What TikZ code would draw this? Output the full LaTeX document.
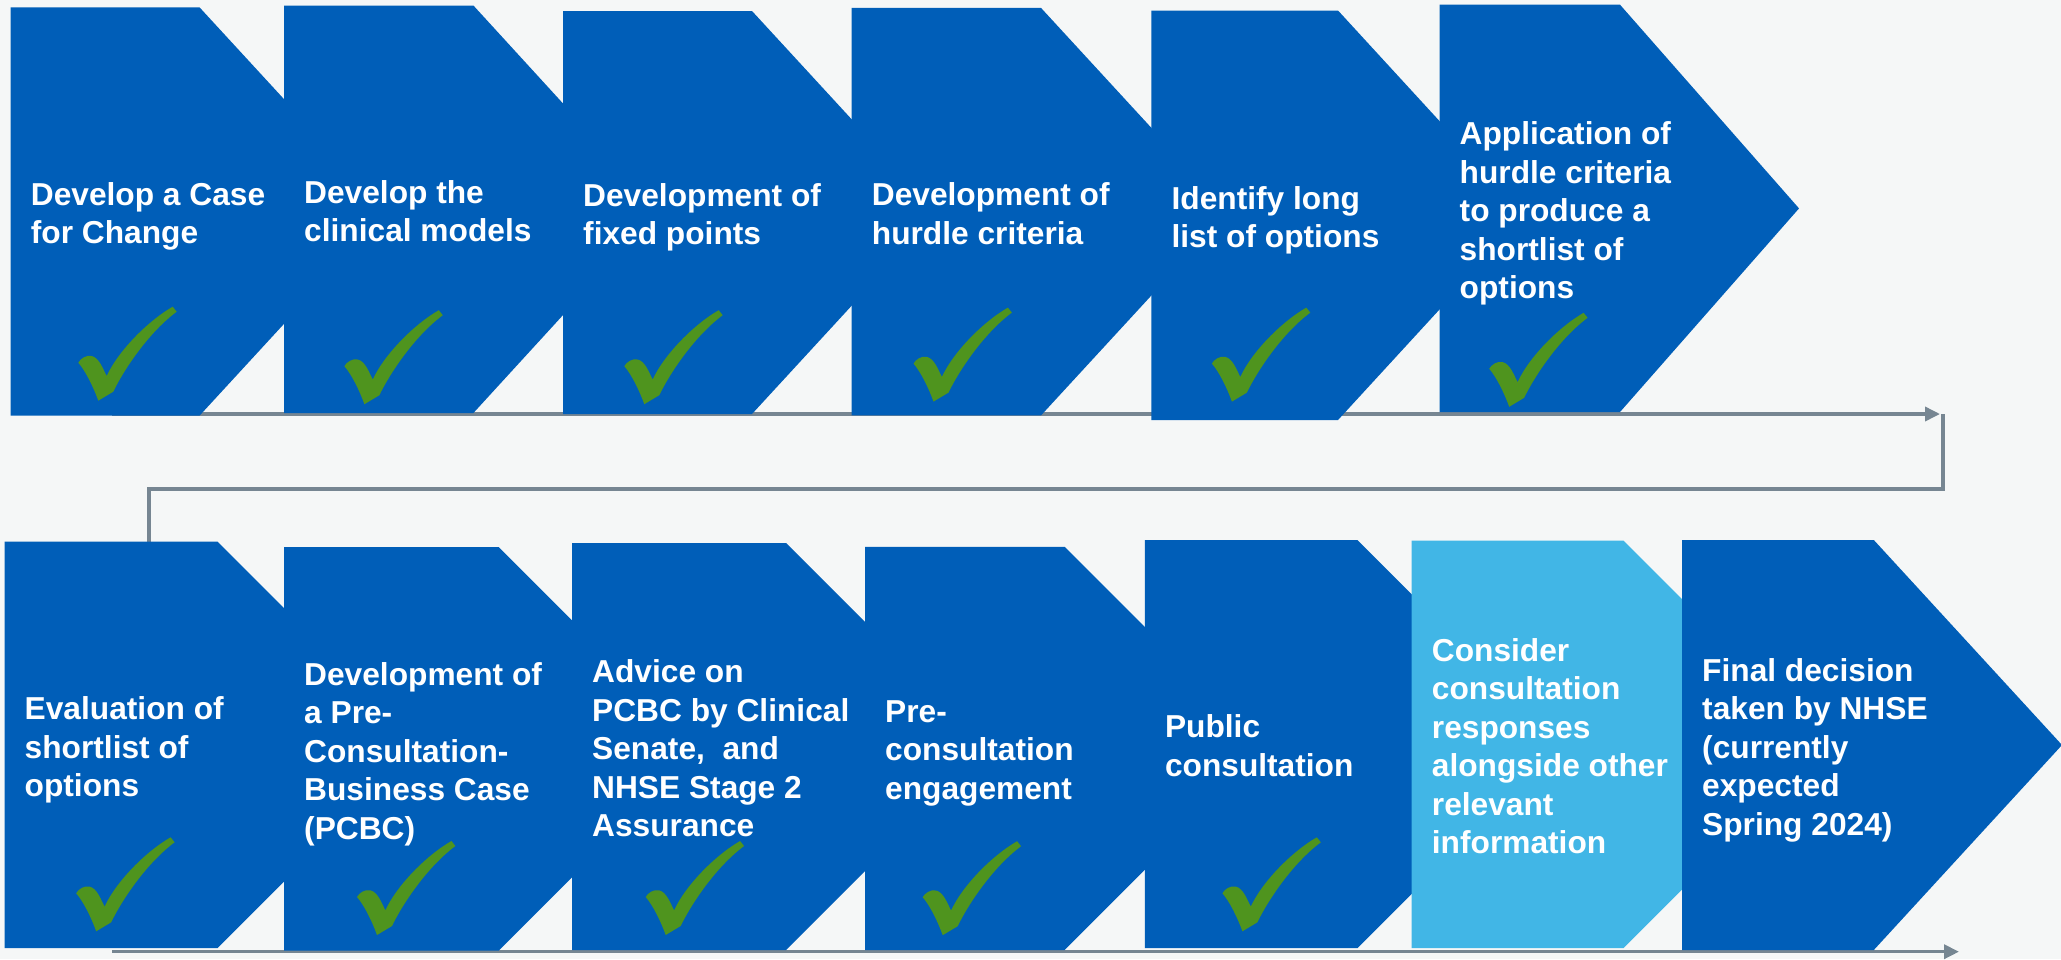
\documentclass[tikz,border=0pt]{standalone}
\usepackage{fontspec}
\setmainfont{Liberation Sans}
\usetikzlibrary{arrows.meta}

\definecolor{nhsblue}{HTML}{005EB8}
\definecolor{paleblue}{HTML}{41B6E6}
\definecolor{tickgreen}{HTML}{4F941E}
\definecolor{linegrey}{HTML}{768692}
\definecolor{pagebg}{HTML}{F5F7F7}

\newcommand\pptstrut{\rule[-0.212em]{0pt}{1.117em}}

\tikzset{
  stepshape/.style={fill=nhsblue},
  steptext/.style={anchor=west, inner sep=0pt, align=left, text=white, yshift=-5pt,
    font=\bfseries\fontsize{31.7}{38.5}\selectfont,
    execute at begin node=\pptstrut, execute at end node=\pptstrut},
  flowline/.style={draw=linegrey, line width=3.5pt},
  flowarrow/.style={flowline, -{Triangle[length=15pt,width=14pt]}},
  tickmark/.pic={
    \fill[tickgreen] (0,0) -- (15,-9) .. controls (25,-30) and (50,-68) .. (78.4,-89)
      -- (74.4,-94) .. controls (50,-80) and (20,-50) .. (8.4,-24.7)
      .. controls (5,-31) and (1,-43) .. (-6.6,-44.7)
      .. controls (-12,-46) and (-18,-42) .. (-20,-38)
      .. controls (-13,-30) and (-5,-14) .. (0,0) -- cycle;
  }
}

\begin{document}
\begin{tikzpicture}[x=1pt, y=-1pt]
        \fill[pagebg] (0,0) rectangle (2061,959);
        \useasboundingbox (0,0) rectangle (2061,959);

        % connectors behind the steps
        \coordinate (rowonestart) at (112,414);
        \coordinate (rowoneend) at (1940,414);
        \coordinate (wrap) at (1943,414);
        \coordinate (evaltop) at (149,541.7);
        \coordinate (rowtwostart) at (112,951.7);
        \coordinate (rowtwoend) at (1959,951.7);

        \draw[flowarrow] (rowonestart) -- (rowoneend);
        \draw[flowline] (wrap) -- ++(0,75) -| (evaltop);
        \draw[flowarrow] (rowtwostart) -- (rowtwoend);

        % first row
        \fill[stepshape] (10.7,7.3) -- (199.5,7.3) -- (387.4,211.5) -- (199.5,415.7) -- (10.7,415.7) -- cycle;
        \fill[stepshape] (284,5.5) -- (473.4,5.5) -- (659.8,209.3) -- (473.4,413) -- (284,413) -- cycle;
        \fill[stepshape] (563,11) -- (752,11) -- (937.4,212.5) -- (752,414) -- (563,414) -- cycle;
        \fill[stepshape] (851.7,7.9) -- (1041,7.9) -- (1228.5,211.7) -- (1041,415.4) -- (851.7,415.4) -- cycle;
        \fill[stepshape] (1151.4,10.5) -- (1338,10.5) -- (1526,215.3) -- (1338,420) -- (1151.4,420) -- cycle;
        \fill[stepshape] (1439.5,4.7) -- (1620,4.7) -- (1799,208.4) -- (1620,412) -- (1439.5,412) -- cycle;

        % second row
        \fill[stepshape] (4.5,541.7) -- (217.5,541.7) -- (420.7,744.9) -- (217.5,948) -- (4.5,948) -- cycle;
        \fill[stepshape] (284,547) -- (498.7,547) -- (700.5,748.9) -- (498.7,950.7) -- (284,950.7) -- cycle;
        \fill[stepshape] (572,543) -- (786,543) -- (989.5,746.5) -- (786,950) -- (572,950) -- cycle;
        \fill[stepshape] (865,546.8) -- (1064.7,546.8) -- (1266.3,748.4) -- (1064.7,950) -- (865,950) -- cycle;
        \fill[stepshape] (1144.8,540.2) -- (1357.5,540.2) -- (1561.4,744.1) -- (1357.5,948) -- (1144.8,948) -- cycle;
        \fill[stepshape, fill=paleblue] (1411.7,540.7) -- (1623.5,540.7) -- (1827.2,744.4) -- (1623.5,948) -- (1411.7,948) -- cycle;
        \fill[stepshape] (1682,540) -- (1873.8,540) -- (2062,745) -- (1873.8,950) -- (1682,950) -- cycle;

        % step texts
        \node[steptext] (casechange) at (30.7,211.5) {Develop a Case\\for Change};
        \node[steptext] (clinmodels) at (304,209.3) {Develop the\\clinical models};
        \node[steptext] (fixedpts) at (583,212.5) {Development of\\fixed points};
        \node[steptext] (hurdle) at (871.7,211.7) {Development of\\hurdle criteria};
        \node[steptext] (longlist) at (1171.4,215.3) {Identify long\\list of options};
        \node[steptext] (shortlist) at (1459.5,208.4) {Application of\\hurdle criteria\\to produce a\\shortlist of\\options};

        \node[steptext] (evaluation) at (24.5,744.9) {Evaluation of\\shortlist of\\options};
        \node[steptext] (pcbc) at (304,748.9) {Development of\\a Pre-\\Consultation-\\Business Case\\(PCBC)};
        \node[steptext] (advice) at (592,746.5) {Advice on\\PCBC by Clinical\\Senate,\ \ and\\NHSE Stage 2\\Assurance};
        \node[steptext] (preconsult) at (885,748.4) {Pre-\\consultation\\engagement};
        \node[steptext] (public) at (1164.8,744.1) {Public\\consultation};
        \node[steptext] (consider) at (1431.7,744.4) {Consider\\consultation\\responses\\alongside other\\relevant\\information};
        \node[steptext] (decision) at (1702,745) {Final decision\\taken by NHSE\\(currently\\expected\\Spring 2024)};

        % completed steps
        \pic at (98.3,400.7) {tickmark};
        \pic at (364.4,404.2) {tickmark};
        \pic at (644.3,404.2) {tickmark};
        \pic at (933.5,401.6) {tickmark};
        \pic at (1231.9,401.6) {tickmark};
        \pic at (1509.2,406.8) {tickmark};
        \pic at (96.2,931.3) {tickmark};
        \pic at (377,935) {tickmark};
        \pic at (665.7,935) {tickmark};
        \pic at (942.7,935.2) {tickmark};
        \pic at (1242.4,931.3) {tickmark};
\end{tikzpicture}
\end{document}
